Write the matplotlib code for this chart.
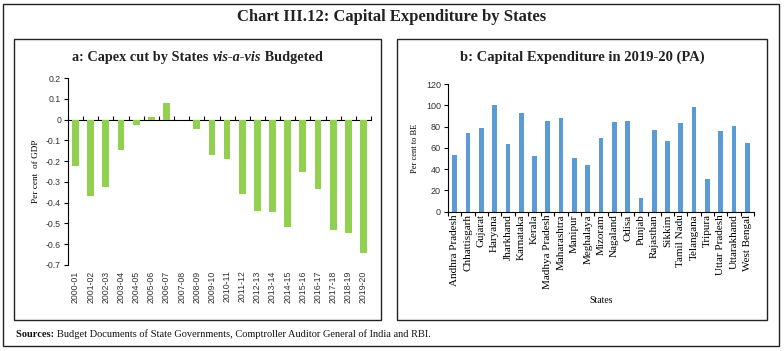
import matplotlib
matplotlib.use("Agg")
import matplotlib.pyplot as plt
from matplotlib.patches import Rectangle
import numpy as np

# Panel a: capex cut vis-a-vis budgeted (per cent of GDP)
years = ['2000-01', '2001-02', '2002-03', '2003-04', '2004-05', '2005-06', '2006-07',
         '2007-08', '2008-09', '2009-10', '2010-11', '2011-12', '2012-13', '2013-14',
         '2014-15', '2015-16', '2016-17', '2017-18', '2018-19', '2019-20']
capex_cut = [-0.225, -0.37, -0.325, -0.148, -0.024, 0.012, 0.08, 0.0, -0.046, -0.17,
             -0.19, -0.36, -0.44, -0.445, -0.515, -0.25, -0.335, -0.53, -0.545, -0.64]
a_yticks = [0.2, 0.1, 0, -0.1, -0.2, -0.3, -0.4, -0.5, -0.6, -0.7]

# Panel b: capital expenditure 2019-20 (PA), per cent to BE
states = ['Andhra Pradesh', 'Chhattisgarh', 'Gujarat', 'Haryana', 'Jharkhand', 'Karnataka',
          'Kerala', 'Madhya Pradesh', 'Maharashtra', 'Manipur', 'Meghalaya', 'Mizoram',
          'Nagaland', 'Odisa', 'Punjab', 'Rajasthan', 'Sikkim', 'Tamil Nadu', 'Telangana',
          'Tripura', 'Uttar Pradesh', 'Uttarakhand', 'West Bengal']
pct_to_be = [53, 74, 79, 100, 63.5, 92.7, 52, 85.4, 87.6, 50.8, 44, 69.5,
             84.4, 85.4, 13.2, 76.8, 66.7, 83, 98.4, 31, 75.5, 80.6, 64.4]
b_yticks = [0, 20, 40, 60, 80, 100, 120]

green = '#92D050'
blue = '#5B9BD5'
dark = '#222222'
serif = 'Liberation Serif'
sans = 'Liberation Sans'

W, H = 784, 351
fig = plt.figure(figsize=(W / 100, H / 100), dpi=100)
renderer = fig.canvas.get_renderer()


def px_box(x0, y0, x1, y1):
    # pixel box (top-left origin) -> figure fraction rect
    return [x0 / W, 1 - y1 / H, (x1 - x0) / W, (y1 - y0) / H]


def runs_line(x0, yb, runs, center=False, **kw):
    # several text pieces with their own style on one baseline
    texts = [fig.text(0, 0, s, ha='left', va='baseline', **kw, **st) for s, st in runs]
    widths = [t.get_window_extent(renderer).width for t in texts]
    x = x0 - sum(widths) / 2 if center else x0
    for t, w in zip(texts, widths):
        t.set_position((x / W, 1 - yb / H))
        x += w


# frames
for (x0, y0, x1, y1) in [(3, 4, 779, 346), (14, 39, 381, 320), (397, 39, 767, 320)]:
    l, b, w, h = px_box(x0, y0, x1, y1)
    fig.patches.append(Rectangle((l, b), w, h, transform=fig.transFigure,
                                 fill=False, edgecolor=dark, linewidth=1.0))

fig.text(0.5, 1 - 17 / H, 'Chart III.12: Capital Expenditure by States',
         ha='center', va='center', fontsize=12, fontweight='bold', family=serif,
         color=dark)

# ---- panel a ----
ax1 = fig.add_axes(px_box(68, 78, 371, 265))
x1 = np.arange(len(years))
ax1.bar(x1, capex_cut, width=0.45, color=green)
ax1.set_xlim(-0.5, len(years) - 0.5)
ax1.set_ylim(-0.7, 0.2)
ax1.set_yticks(a_yticks)
ax1.set_yticklabels([f'{v:g}' for v in a_yticks], family=sans, fontsize=6.3, color='#333333')
ax1.set_xticks(x1)
ax1.set_xticklabels(years, rotation=90, family=sans, fontsize=6.3, color='#333333')
ax1.tick_params(axis='x', length=0, pad=4)
ax1.tick_params(axis='y', length=3, width=0.8, pad=2)
for s in ['top', 'right', 'bottom']:
    ax1.spines[s].set_visible(False)
ax1.spines['left'].set_linewidth(0.8)
# category axis crossing at zero
lo, hi = ax1.get_ylim()
sec = ax1.secondary_xaxis((0 - lo) / (hi - lo))
sec.set_xticks(np.arange(len(years) + 1) - 0.5)
sec.set_xticklabels([])
sec.tick_params(length=3, width=0.8, direction='out')
sec.spines['bottom'].set_linewidth(0.8)
ax1.set_ylabel('Per cent  of GDP', family=serif, fontsize=6.7, labelpad=4)
runs_line((14 + 381) / 2, 61,
          [('a: Capex cut by States ', {}),
           ('vis-a-vis', {'fontstyle': 'italic'}),
           (' Budgeted', {})],
          center=True, fontsize=10.3, fontweight='bold', family=serif, color=dark)

# ---- panel b ----
ax2 = fig.add_axes(px_box(448, 84, 754, 211.7))
x2 = np.arange(len(states))
ax2.bar(x2, pct_to_be, width=0.35, color=blue)
ax2.set_xlim(-0.5, len(states) - 0.5)
ax2.set_ylim(0, 120)
ax2.set_yticks(b_yticks)
ax2.set_yticklabels([str(v) for v in b_yticks], family=sans, fontsize=6.5, color='#333333')
ax2.set_xticks(x2)
ax2.set_xticklabels(states, rotation=90, family=serif, fontsize=8)
ax2.set_xticks(np.arange(len(states) + 1) - 0.5, minor=True)
ax2.tick_params(axis='x', which='major', length=0, pad=2)
ax2.tick_params(axis='x', which='minor', length=3, width=0.8)
ax2.tick_params(axis='y', length=3, width=0.8, pad=2)
for s in ['top', 'right']:
    ax2.spines[s].set_visible(False)
ax2.spines['left'].set_linewidth(0.8)
ax2.spines['bottom'].set_linewidth(0.8)
ax2.set_ylabel('Per cent to BE', family=serif, fontsize=6, labelpad=5)
ax2.set_xlabel('States', family=serif, fontsize=7, labelpad=5)
runs_line((397 + 767) / 2, 61, [('b: Capital Expenditure in 2019-20 (PA)', {})],
          center=True, fontsize=10.5, fontweight='bold', family=serif, color=dark)

# sources line
runs_line(16, 337,
          [('Sources: ', {'fontweight': 'bold'}),
           ('Budget Documents of State Governments, Comptroller Auditor General of India and RBI.', {})],
          fontsize=7.5, family=serif, color='#111111')

fig.savefig('out.png', dpi=100)
